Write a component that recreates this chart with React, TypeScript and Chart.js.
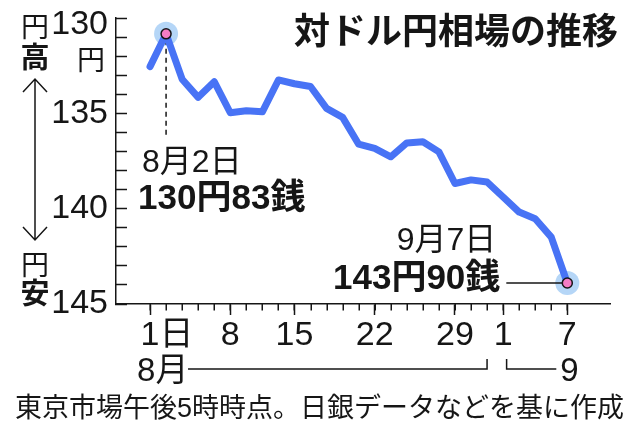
import React, { useEffect, useRef } from "react";
import { Chart, registerables } from "chart.js";

Chart.register(...registerables);

// ---- data ----
const dates = [
  "8/1", "8/2", "8/3", "8/4", "8/5", "8/8", "8/9", "8/10", "8/12",
  "8/15", "8/16", "8/17", "8/18", "8/19", "8/22", "8/23", "8/24", "8/25", "8/26",
  "8/29", "8/30", "8/31", "9/1", "9/2", "9/5", "9/6", "9/7",
];
const rates = [
  132.55, 130.83, 133.21, 134.16, 133.34, 134.97, 134.86, 134.92, 133.25,
  133.45, 133.59, 134.74, 135.21, 136.62, 136.84, 137.28, 136.55, 136.49, 137.02,
  138.68, 138.49, 138.6, 139.39, 140.18, 140.53, 141.49, 143.9,
];
const tickDates = ["8/1", "8/8", "8/15", "8/22", "8/29", "9/1", "9/7"];
const tickLabels = ["\u30001日", "8", "15", "22", "29", "1", "7"];
const monthLabels = ["8月", "9"];
const highlightDates = ["8/2", "9/7"];
const highlightDateText = ["8月2日", "9月7日"];
const highlightValueText = ["130円83銭", "143円90銭"];
const titleText = "対ドル円相場の推移";
const noteText = "東京市場午後5時時点。日銀データなどを基に作成";
const yUnit = "円";
const upperSide = ["円", "高"];
const lowerSide = ["円", "安"];

// ---- styles ----
const FONT = '"Liberation Sans", "Noto Sans CJK JP", sans-serif';
const INK = "#161616";
const BLUE = "#4873f5";
const HALO = "#b5d6f7";
const PINK = "#f47cc4";

const decor = {
  id: "decor",
  afterDatasetDraw(chart: any, args: any) {
    if (args.index !== 1) return;
    const ctx = chart.ctx;
    const xs = chart.scales.x;
    const ys = chart.scales.y;
    const i0 = dates.indexOf(highlightDates[0]);
    const i1 = dates.indexOf(highlightDates[1]);
    const p0x = xs.getPixelForValue(i0);
    const p0y = ys.getPixelForValue(rates[i0]);
    const p1x = xs.getPixelForValue(i1);
    const p1y = ys.getPixelForValue(rates[i1]);
    ctx.save();
    ctx.strokeStyle = INK;
    ctx.lineWidth = 1.5;
    ctx.setLineDash([5, 4]);
    ctx.beginPath();
    ctx.moveTo(p0x, p0y + 6);
    ctx.lineTo(p0x, p0y + 104);
    ctx.stroke();
    ctx.setLineDash([]);
    ctx.beginPath();
    ctx.moveTo(p1x - 61, p1y);
    ctx.lineTo(p1x, p1y);
    ctx.stroke();
    ctx.restore();
  },
  afterDraw(chart: any) {
    const ctx = chart.ctx;
    const xs = chart.scales.x;
    const ys = chart.scales.y;
    ctx.save();
    ctx.fillStyle = INK;
    ctx.strokeStyle = INK;
    ctx.lineWidth = 1.5;
    ctx.textBaseline = "alphabetic";
    const text = (s: string, px: number, py: number, size: number, weight: string, align: string) => {
      ctx.font = `${weight} ${size}px ${FONT}`;
      ctx.textAlign = align;
      ctx.fillText(s, px, py);
    };

    // minor ticks on x axis (every trading day)
    ctx.beginPath();
    dates.forEach((_, i) => {
      const px = Math.round(xs.getPixelForValue(i)) + 0.25;
      ctx.moveTo(px, xs.top);
      ctx.lineTo(px, xs.top + 6.5);
    });
    ctx.stroke();

    // month brackets
    const lastAug = dates.map((d) => d.startsWith("8/")).lastIndexOf(true);
    const firstSep = lastAug + 1;
    const lastIdx = dates.length - 1;
    const x0 = xs.getPixelForValue(0);
    const xa = xs.getPixelForValue(lastAug);
    const xsep = xs.getPixelForValue(firstSep) + 3.5;
    const xl = xs.getPixelForValue(lastIdx);
    const by = xs.top + 65;
    text(monthLabels[0], x0 - 13, by + 12, 33, "normal", "left");
    ctx.beginPath();
    ctx.moveTo(x0 + 38, by);
    ctx.lineTo(xa, by);
    ctx.lineTo(xa, by - 10);
    ctx.moveTo(xsep, by - 10);
    ctx.lineTo(xsep, by);
    ctx.lineTo(xl - 11, by);
    ctx.stroke();
    text(monthLabels[1], xl + 2, by + 12, 33, "normal", "center");

    // inner-y-axis unit
    text(yUnit, 91, 69.5, 28, "normal", "center");

    // left side: 円高 ↕ 円安
    text(upperSide[0], 35, 37, 28, "normal", "center");
    text(upperSide[1], 35, 67.5, 29, "bold", "center");
    text(lowerSide[0], 35, 274.5, 28, "normal", "center");
    text(lowerSide[1], 35, 304, 29, "bold", "center");
    ctx.beginPath();
    ctx.moveTo(35, 79);
    ctx.lineTo(35, 240);
    ctx.moveTo(23, 92);
    ctx.lineTo(35, 79);
    ctx.lineTo(47, 92);
    ctx.moveTo(23, 227);
    ctx.lineTo(35, 240);
    ctx.lineTo(47, 227);
    ctx.stroke();

    // title
    text(titleText, 618, 43.5, 36, "bold", "right");

    // highlight labels
    const i0 = dates.indexOf(highlightDates[0]);
    const i1 = dates.indexOf(highlightDates[1]);
    const p0x = xs.getPixelForValue(i0);
    const p0y = ys.getPixelForValue(rates[i0]);
    const p1x = xs.getPixelForValue(i1);
    const p1y = ys.getPixelForValue(rates[i1]);
    text(highlightDateText[0], p0x - 24, p0y + 138, 32, "normal", "left");
    text(highlightValueText[0], p0x - 28, p0y + 175.5, 35, "bold", "left");
    text(highlightDateText[1], p1x - 71, p1y - 33.5, 32, "normal", "right");
    text(highlightValueText[1], p1x - 67, p1y + 6, 35, "bold", "right");

    // source note
    text(noteText, 15, 417, 27, "normal", "left");
    ctx.restore();
  },
};

export default function App() {
  const ref = useRef<HTMLCanvasElement | null>(null);
  useEffect(() => {
    if (!ref.current) return;
    const points = rates.map((r, i) => ({ x: i, y: r }));
    const hi = highlightDates.map((d) => {
      const i = dates.indexOf(d);
      return { x: i, y: rates[i] };
    });
    const chart = new Chart(ref.current, {
      type: "line",
      data: {
        datasets: [
          {
            data: points,
            borderColor: BLUE,
            borderWidth: 7,
            pointRadius: 0,
            tension: 0,
            borderJoinStyle: "round",
            borderCapStyle: "round",
            order: 2,
          },
          {
            data: hi,
            showLine: false,
            pointRadius: 12,
            pointBackgroundColor: HALO,
            pointBorderWidth: 0,
            order: 3,
          },
          {
            data: hi,
            showLine: false,
            pointRadius: 5,
            pointBackgroundColor: PINK,
            pointBorderColor: INK,
            pointBorderWidth: 1.5,
            order: 1,
          },
        ],
      } as any,
      options: {
        animation: false,
        responsive: true,
        maintainAspectRatio: false,
        events: [],
        layout: { padding: { top: 18, right: 30, left: 0, bottom: 0 } },
        plugins: { legend: { display: false }, tooltip: { enabled: false }, title: { display: false } },
        scales: {
          x: {
            type: "linear",
            min: -2.12,
            max: 28.66,
            afterBuildTicks: (s: any) => {
              s.ticks = tickDates.map((d) => ({ value: dates.indexOf(d) }));
            },
            afterFit: (s: any) => {
              s.height = 120;
              s.paddingLeft = 0;
              s.paddingRight = 0;
              s.paddingTop = 0;
              s.paddingBottom = 0;
            },
            grid: { drawOnChartArea: false, drawTicks: true, tickLength: 11, tickWidth: 1.5, tickColor: INK },
            border: { display: true, color: INK, width: 1.5 },
            ticks: {
              autoSkip: false,
              maxRotation: 0,
              minRotation: 0,
              padding: 0,
              color: INK,
              font: { family: FONT, size: 34 },
              callback: (_v: any, i: number) => tickLabels[i],
            },
          },
          y: {
            type: "linear",
            reverse: true,
            min: 130,
            max: 145,
            afterFit: (s: any) => {
              s.width = 116;
              s.paddingLeft = 0;
              s.paddingRight = 0;
              s.paddingTop = 0;
              s.paddingBottom = 0;
            },
            grid: { drawOnChartArea: false, drawTicks: true, tickLength: -11, tickWidth: 1.5, tickColor: INK },
            border: { display: true, color: INK, width: 1.5 },
            ticks: {
              stepSize: 1,
              autoSkip: false,
              padding: 19,
              color: INK,
              font: { family: FONT, size: 34, lineHeight: 0.4 },
              callback: (v: any) => {
                const n = Number(v);
                if (n === 130) return ["", String(n)];
                return n % 5 === 0 ? String(n) : "";
              },
            },
          },
        },
      } as any,
      plugins: [decor],
    });
    return () => chart.destroy();
  }, []);
  return (
    <div style={{ position: "fixed", left: 0, top: 0, width: 640, height: 424, background: "#fff" }}>
      <canvas ref={ref} />
    </div>
  );
}
